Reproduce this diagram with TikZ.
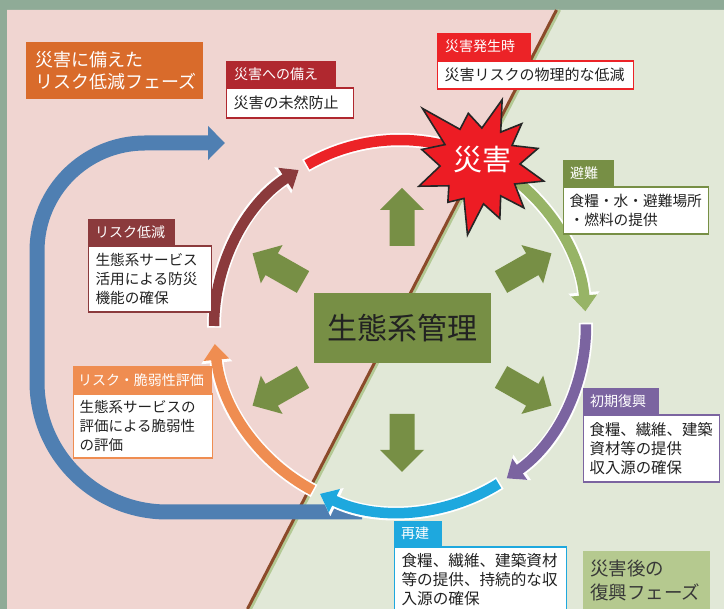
\documentclass[tikz,border=0pt]{standalone}
\usepackage{fontspec}
\setmainfont{Noto Sans CJK JP}
\usetikzlibrary{arrows.meta}
\definecolor{framec}{HTML}{8FAB97}
\definecolor{pinkbg}{HTML}{F0D5D1}
\definecolor{greenbg}{HTML}{E1E8D7}
\definecolor{diagbrown}{HTML}{8B4A2A}
\definecolor{diaglight}{HTML}{B3C994}
\definecolor{blueA}{HTML}{4F7FB2}
\definecolor{redA}{HTML}{EC2327}
\definecolor{starred}{HTML}{ED1C24}
\definecolor{darkredA}{HTML}{8B3A3C}
\definecolor{orangeA}{HTML}{EF8D51}
\definecolor{lgreenA}{HTML}{97B466}
\definecolor{purpleA}{HTML}{7B64A0}
\definecolor{cyanA}{HTML}{1EA8DE}
\definecolor{oliveA}{HTML}{778F45}
\definecolor{hdrred}{HTML}{B0282F}
\definecolor{phaseorange}{HTML}{D96B2B}
\definecolor{phasegreen}{HTML}{B5C98F}
\definecolor{txt}{HTML}{222222}
\newcommand\fatarrow[4]{%
  \fill[oliveA, shift={(#1,#2)}, rotate=#3] (0,-12.5) -- (#4-22,-12.5) -- (#4-22,-22) -- (#4,0) -- (#4-22,22) -- (#4-22,12.5) -- (0,12.5) -- cycle;}
\tikzset{
  hdr/.style={anchor=north west, inner ysep=0pt, text=white, font=\fontsize{14}{17}\selectfont, align=left},
  bodybox/.style={anchor=north west, inner ysep=0pt, fill=white, line width=1.2pt, text=txt, font=\fontsize{15}{19}\selectfont, align=left},
  ringw/.style={white, line width=14pt},
  ringc/.style={line width=10.5pt},
  tipw/.style={-{Triangle[width=30pt,length=19pt]}},
  tipc/.style={-{Triangle[width=25pt,length=16pt]}},
}
\begin{document}
\begin{tikzpicture}[x=1pt,y=1pt]
\useasboundingbox (0,0) rectangle (724,609);
% backgrounds
\fill[framec] (0,0) rectangle (724,609);
\fill[pinkbg] (7,0) -- (7,599) -- (556,599) -- (247,0) -- cycle;
\fill[greenbg] (556,599) -- (724,599) -- (724,0) -- (247,0) -- cycle;
\draw[diaglight, line width=3pt] (559.5,599) -- (250.5,0);
\draw[diagbrown, line width=3pt] (556.5,599) -- (247.5,0);
% blue feedback arrow
\draw[blueA, line width=15pt, -{Triangle[width=33pt,length=17pt]}] (362,97) -- (167,97) arc[start angle=270,end angle=180,radius=130] -- (37,358) arc[start angle=180,end angle=90,radius=108] -- (225,466);
% ring centre
\coordinate (Cc) at (400,283);
% red arc
\draw[ringw] (Cc) ++(120.5:186) arc[start angle=120.5,end angle=62,radius=186];
\draw[ringc, redA] (Cc) ++(120:186) arc[start angle=120,end angle=62,radius=186];
% light green arc
\draw[ringw, tipw] (Cc) ++(55:186) arc[start angle=55,end angle=4.5,radius=186];
\draw[ringc, lgreenA, tipc] (Cc) ++(55:186) arc[start angle=55,end angle=4.5,radius=186];
% purple arc
\draw[ringw, tipw] (Cc) ++(1:186) arc[start angle=1,end angle=-55,radius=186];
\draw[ringc, purpleA, tipc] (Cc) ++(0.5:186) arc[start angle=0.5,end angle=-55,radius=186];
% cyan arc
\draw[ringw, tipw] (Cc) ++(-57.5:186) arc[start angle=-57.5,end angle=-115.5,radius=186];
\draw[ringc, cyanA, tipc] (Cc) ++(-58:186) arc[start angle=-58,end angle=-115.5,radius=186];
% orange arc
\draw[ringw, tipw] (Cc) ++(242.5:186) arc[start angle=242.5,end angle=185.5,radius=186];
\draw[ringc, orangeA, tipc] (Cc) ++(242:186) arc[start angle=242,end angle=185.5,radius=186];
% dark red arc
\draw[ringw, tipw] (Cc) ++(180.5:186) arc[start angle=180.5,end angle=123,radius=186];
\draw[ringc, darkredA, tipc] (Cc) ++(180:186) arc[start angle=180,end angle=123,radius=186];
% star burst
\begin{scope}[shift={(480,445)}]
\filldraw[fill=starred, draw=black!85, line width=1.6pt, line join=miter]
 (136:80) -- (120:40) -- (103:52) -- (87:36) -- (71:68) -- (57:38) -- (44:58) -- (30:37)
 -- (15:60) -- (0:40) -- (-15:66) -- (-30:40) -- (-45:62) -- (-57:38) -- (-70:58) -- (-85:40)
 -- (-100:72) -- (-115:38) -- (-130:50) -- (-145:38) -- (-160:65) -- (-177:40) -- (166:60) -- (151:40) -- cycle;
\end{scope}
\node[text=white, font=\fontsize{29}{32}\selectfont] (disaster) at (482,449) {災害};
% radial arrows
\fatarrow{402}{363}{90}{58}
\fatarrow{402}{195}{-90}{58}
\fatarrow{501}{327}{29.6}{58}
\fatarrow{501}{232}{-29.6}{58}
\fatarrow{303}{327}{150.4}{58}
\fatarrow{303}{232}{-150.4}{58}
% central node
\node[fill=oliveA, minimum width=177pt, minimum height=70pt, inner sep=0pt, text=txt, font=\fontsize{30}{36}\selectfont] (mgmt) at (402,281) {生態系管理};
% phase labels
\node[anchor=north west, fill=phaseorange, text=white, minimum height=57pt, text width=159pt, inner xsep=9pt, inner ysep=0pt, align=left, font=\fontsize{18}{22}\selectfont] (phase1) at (26,567) {災害に備えた\\リスク低減フェーズ};
\node[anchor=north west, fill=phasegreen, text=black!78, minimum height=58pt, text width=113pt, inner xsep=7pt, inner ysep=0pt, align=left, font=\fontsize{18.5}{24}\selectfont] (phase2) at (583,58) {災害後の\\復興フェーズ};
% 災害への備え
\node[hdr, fill=hdrred, minimum height=26pt, text width=94pt, inner xsep=8pt] (h1) at (226,548) {災害への備え};
\node[bodybox, draw=hdrred, minimum height=30pt, text width=113pt, inner xsep=7pt] (b1) at (h1.south west) {災害の未然防止};
% 災害発生時
\node[hdr, fill=redA, minimum height=27pt, text width=78pt, inner xsep=8pt] (h2) at (437,576) {災害発生時};
\node[bodybox, draw=redA, minimum height=28pt, text width=182pt, inner xsep=7pt] (b2) at (h2.south west) {災害リスクの物理的な低減};
% 避難
\node[hdr, fill=oliveA, minimum height=26pt, text width=37pt, inner xsep=7pt] (h3) at (563,449) {避難};
\node[bodybox, draw=oliveA, minimum height=47pt, text width=133pt, inner xsep=6pt, font=\fontsize{14.7}{19}\selectfont] (b3) at (h3.south west) {食糧・水・避難場所\\・燃料の提供};
% リスク低減
\node[hdr, fill=darkredA, minimum height=26pt, text width=73pt, inner xsep=7pt] (h4) at (88,390) {リスク低減};
\node[bodybox, draw=darkredA, minimum height=66pt, text width=109pt, inner xsep=7pt, font=\fontsize{14.6}{19}\selectfont] (b4) at (h4.south west) {生態系サービス\\活用による防災\\機能の確保};
% リスク・脆弱性評価
\node[hdr, fill=orangeA, minimum height=27pt, text width=129pt, inner xsep=5pt] (h5) at (73,243) {リスク・脆弱性評価};
\node[bodybox, draw=orangeA, minimum height=64pt, text width=127pt, inner xsep=6pt, font=\fontsize{14.5}{19}\selectfont] (b5) at (h5.south west) {生態系サービスの\\評価による脆弱性\\の評価};
% 初期復興
\node[hdr, fill=purpleA, minimum height=26pt, text width=62pt, inner xsep=7pt] (h6) at (583,221) {初期復興};
\node[bodybox, draw=purpleA, minimum height=67pt, text width=124pt, inner xsep=6pt, font=\fontsize{15.4}{19}\selectfont] (b6) at (h6.south west) {食糧、繊維、建築\\資材等の提供\\収入源の確保};
% 再建
\node[hdr, fill=cyanA, minimum height=25pt, text width=34pt, inner xsep=7pt] (h7) at (394,88) {再建};
\node[bodybox, draw=cyanA, minimum height=66pt, text width=158pt, inner xsep=7pt, font=\fontsize{15.6}{19}\selectfont] (b7) at (h7.south west) {食糧、繊維、建築資材\\等の提供、持続的な収\\入源の確保};
\end{tikzpicture}
\end{document}
